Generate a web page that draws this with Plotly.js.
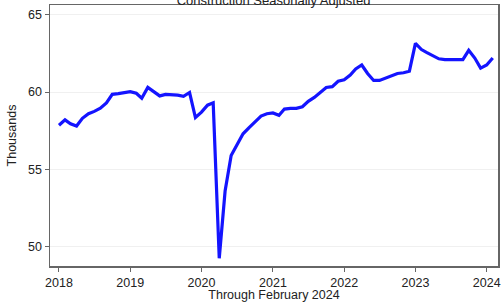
<!DOCTYPE html>
<html>
<head>
<meta charset="utf-8">
<script src="https://cdn.plot.ly/plotly-3.0.1.min.js"></script>
<style>html,body{margin:0;padding:0;background:#fff;}#chart{width:502px;height:302px;}</style>
</head>
<body>
<div id="chart"></div>
<script>
const startYear = 2018;
const values2018 = [57.85, 58.2, 57.95, 57.8, 58.3, 58.6, 58.75, 58.95, 59.3, 59.85, 59.9, 59.95];
const values2019 = [60.03, 59.92, 59.6, 60.3, 60.0, 59.75, 59.85, 59.85, 59.8, 59.72, 59.97, 58.35];
const values2020 = [58.7, 59.15, 59.3, 49.25, 53.6, 55.9, 56.6, 57.3, 57.7, 58.1, 58.45, 58.6];
const values2021 = [58.65, 58.5, 58.9, 58.95, 58.95, 59.05, 59.4, 59.65, 59.95, 60.3, 60.35, 60.7];
const values2022 = [60.8, 61.1, 61.5, 61.75, 61.2, 60.75, 60.75, 60.9, 61.05, 61.2, 61.25, 61.35];
const values2023 = [63.15, 62.75, 62.55, 62.35, 62.15, 62.1, 62.1, 62.1, 62.1, 62.7, 62.2, 61.55];
const values2024 = [61.75, 62.2];
const yTicks = [50, 55, 60, 65];
const xTickLabels = ['2018', '2019', '2020', '2021', '2022', '2023', '2024'];

const yearly = [values2018, values2019, values2020, values2021, values2022, values2023, values2024];
const x = [], y = [];
yearly.forEach((arr, i) => {
  arr.forEach((v, m) => {
    x.push((startYear + i) + '-' + String(m + 1).padStart(2, '0') + '-01');
    y.push(v);
  });
});
const xTickVals = xTickLabels.map(t => t + '-01-01');

const font = {family: 'Liberation Sans, Arial, sans-serif', size: 12.5, color: '#222'};

Plotly.newPlot('chart', [{
  x: x, y: y, type: 'scatter', mode: 'lines',
  line: {color: '#1414ff', width: 3.2}, hoverinfo: 'skip'
}], {
  width: 502, height: 302,
  margin: {l: 50, r: 4, t: 5, b: 36},
  paper_bgcolor: '#fff', plot_bgcolor: '#fff',
  showlegend: false,
  font: font,
  title: {text: 'Construction Seasonally Adjusted', font: {family: font.family, size: 13, color: '#222'},
          x: 0.545, xanchor: 'center', y: 1.0, yanchor: 'middle', yref: 'container'},
  xaxis: {
    type: 'date', range: ['2017-11-16', '2024-02-28'],
    tickvals: xTickVals, ticktext: xTickLabels,
    ticks: 'outside', ticklen: 4, tickcolor: '#666', tickwidth: 1,
    showgrid: false, zeroline: false,
    showline: true, linecolor: '#666', linewidth: 1.5, mirror: true,
    tickfont: font,
    title: {text: 'Through February 2024', font: font, standoff: 2}
  },
  yaxis: {
    range: [48.75, 65.63],
    tickvals: yTicks,
    ticks: 'outside', ticklen: 4, tickcolor: '#666', tickwidth: 1,
    showgrid: true, gridcolor: '#f0f0f0', gridwidth: 1,
    zeroline: false,
    showline: true, linecolor: '#666', linewidth: 1.5, mirror: true,
    tickfont: font,
    title: {text: 'Thousands', font: font, standoff: 8}
  }
}, {displayModeBar: false, staticPlot: true});
</script>
</body>
</html>
